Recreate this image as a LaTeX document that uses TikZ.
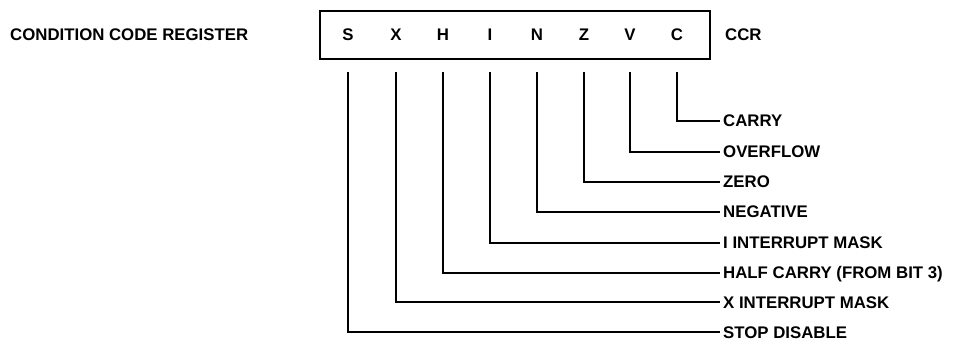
\documentclass[tikz,border=0pt]{standalone}
\usepackage{fontspec}
\setmainfont{Liberation Sans}
\begin{document}
\begin{tikzpicture}[x=1pt,y=-1pt,
  txt/.style={font=\fontsize{16.8}{18}\bfseries\selectfont, inner sep=0pt, text height=12pt, text depth=0pt},
  bit/.style={txt, anchor=center},
  lab/.style={txt, anchor=west},
  wire/.style={line width=2.4pt, line join=miter}]
\useasboundingbox (0,0) rectangle (955,347);
\node[lab] (title) at (10,35) {CONDITION CODE REGISTER};
\draw[line width=2.8pt] (320,11) rectangle (710,59);
\node[lab] (ccr) at (725,35) {CCR};
\foreach \n/\t/\x in {S/S/348,X/X/396,H/H/443,I/I/490,N/N/537,Z/Z/584,V/V/630,C/C/677}{
  \node[bit] (b\n) at (\x,35) {\t};
  \coordinate (t\n) at (\x,72);
}
\node[lab] (lC) at (723,121) {CARRY};
\node[lab] (lV) at (723,152) {OVERFLOW};
\node[lab] (lZ) at (723,182) {ZERO};
\node[lab] (lN) at (723,212) {NEGATIVE};
\node[lab] (lI) at (723,243) {I INTERRUPT MASK};
\node[lab] (lH) at (723,273) {HALF CARRY (FROM BIT 3)};
\node[lab] (lX) at (723,302) {X INTERRUPT MASK};
\node[lab] (lS) at (723,332) {STOP DISABLE};
\foreach \n in {S,X,H,I,N,Z,V,C}{
  \draw[wire] (t\n) -- (t\n |- l\n.west) -- ([xshift=-3pt]l\n.west);
}
\end{tikzpicture}
\end{document}
